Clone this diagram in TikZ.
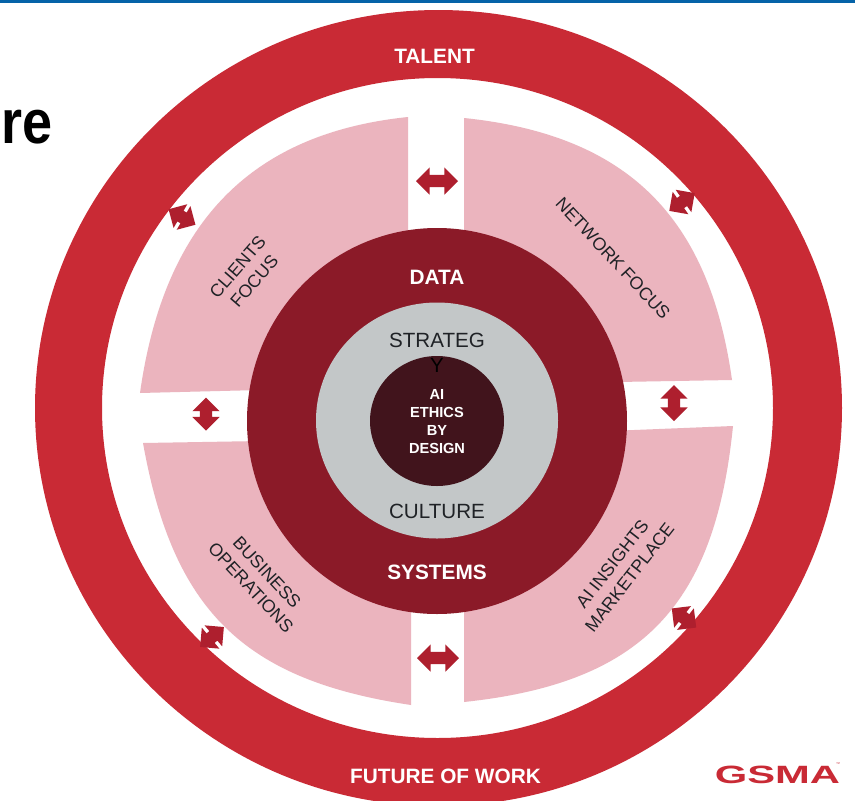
\documentclass[tikz,border=0pt]{standalone}
\usepackage{fontspec}
\setmainfont{Liberation Sans}
\usetikzlibrary{shapes.arrows}
\definecolor{ringred}{HTML}{C92A35}
\definecolor{darkred}{HTML}{8B1A28}
\definecolor{pinkfill}{HTML}{EBB4BE}
\definecolor{greyfill}{HTML}{C3C7C8}
\definecolor{corefill}{HTML}{41141C}
\definecolor{arrowred}{HTML}{AE1F2E}
\definecolor{topblue}{HTML}{0563A8}
\definecolor{inktext}{HTML}{1F2226}
\newcommand{\shaftbar}{\rule{0pt}{12pt}}
\tikzset{
  twoway/.style={double arrow, fill=arrowred, draw=none, inner sep=0pt, minimum height=#1, double arrow head extend=7.5pt, double arrow head indent=0pt},
  twoway/.default=42pt,
  sector/.style={fill=pinkfill},
  whitebold/.style={text=white, font=\fontsize{20.8}{24}\selectfont\bfseries, inner sep=0pt},
  inkreg/.style={text=inktext, font=\fontsize{20.6}{24}\selectfont, inner sep=0pt},
  seclabel/.style={text=inktext, font=\fontsize{17.8}{22}\selectfont, align=center, inner sep=0pt},
  corelabel/.style={text=white, font=\fontsize{14.6}{18}\selectfont\bfseries, align=center, inner sep=0pt}
}
\begin{document}
\begin{tikzpicture}[x=1pt,y=-1pt]
\useasboundingbox (0,0) rectangle (855,801);
\clip (0,0) rectangle (855,801);
\fill[white] (0,0) rectangle (855,801);
\fill[topblue] (0,0) rectangle (855,2.5);
% outer ring
\fill[ringred, even odd rule] (438.5,408) ellipse [x radius=403.5pt, y radius=398pt]
  (437.5,408) ellipse [x radius=335.5pt, y radius=330pt];
% sectors
\fill[sector] (408,117) .. controls (244,134) and (163,230) .. (140,393) -- (300,389) -- (408,300) -- cycle;
\fill[sector] (464,118) .. controls (628,135) and (709,217) .. (732,380) -- (560,383) -- (464,300) -- cycle;
\fill[sector] (733,426) .. controls (715,605) and (643,683) .. (464,702) -- (464,540) -- (560,433) -- cycle;
\fill[sector] (143,443) .. controls (173,610) and (243,680) .. (411,705) -- (411,540) -- (320,440) -- cycle;
% centre discs
\fill[darkred] (437,421) ellipse [x radius=190pt, y radius=193pt];
\fill[greyfill] (437,420.5) ellipse [x radius=121pt, y radius=118pt];
\fill[corefill] (437,421) ellipse [x radius=67pt, y radius=65pt];
% arrows
\node[twoway] (atop) at (437,181) {\shaftbar};
\node[twoway] (abot) at (438,658) {\shaftbar};
\node[twoway=33pt, rotate=90] (aleft) at (206,414) {\shaftbar};
\node[twoway=36pt, rotate=90] (aright) at (674,403) {\shaftbar};
\node[twoway=31pt, rotate=-30] (atl) at (182,217) {\shaftbar};
\node[twoway=31pt, rotate=35] (atr) at (682,202) {\shaftbar};
\node[twoway=31pt, rotate=40] (abl) at (212,637) {\shaftbar};
\node[twoway=31pt, rotate=-38] (abr) at (684,618) {\shaftbar};
% texts
\node[whitebold] (talent) at (434.5,56) {TALENT};
\node[whitebold] (data) at (437,277) {DATA};
\node[whitebold] (systems) at (437,572) {SYSTEMS};
\node[whitebold] (future) at (445.5,776) {FUTURE OF WORK};
\node[inkreg] (strat) at (437,340) {STRATEG};
\node[inkreg, text=black] (straty) at (437,365) {Y};
\node[inkreg] (culture) at (437,511) {CULTURE};
\node[corelabel] (core) at (437,422) {AI\\ETHICS\\BY\\DESIGN};
\node[seclabel, rotate=49] (clients) at (246,274) {CLIENTS\\FOCUS};
\node[seclabel, rotate=-47] (network) at (613,258.5) {NETWORK FOCUS};
\node[seclabel, rotate=-47] (business) at (259,580) {BUSINESS\\OPERATIONS};
\node[seclabel, rotate=52] (insights) at (621,570.5) {AI INSIGHTS\\MARKETPLACE};
\node[anchor=base east, inner sep=0pt, xscale=.87, font=\fontsize{62}{62}\selectfont\bfseries] (re) at (53,143) {re};
\node[anchor=base west, inner sep=0pt, xscale=1.67, text=ringred, font=\fontsize{25}{25}\selectfont\bfseries] (gsma) at (714.5,783) {GSMA};
\node[anchor=west, inner sep=0pt, text=ringred, font=\fontsize{4}{4}\selectfont] (tm) at (836,764) {™};
\end{tikzpicture}
\end{document}
